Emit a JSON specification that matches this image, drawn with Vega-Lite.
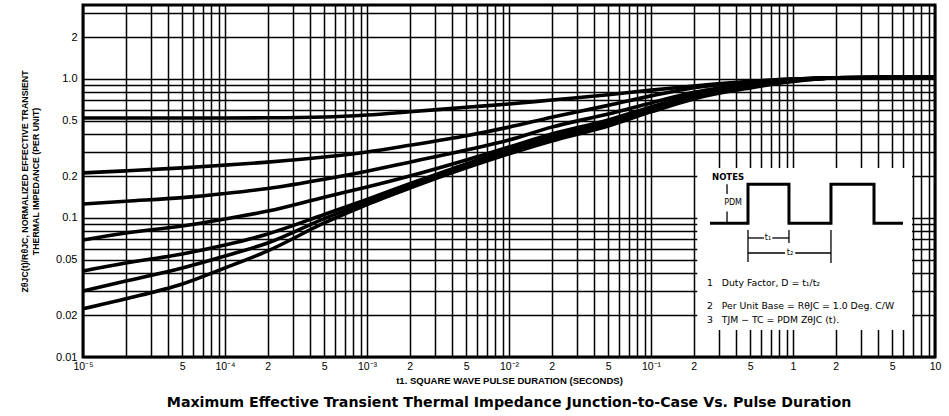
{
  "$schema": "https://vega.github.io/schema/vega-lite/v6.json",
  "width": 852,
  "height": 352,
  "autosize": {"type": "none"},
  "padding": {"left": 83, "top": 5, "right": 14, "bottom": 59},
  "background": "white",
  "title": {
    "text": "Maximum Effective Transient Thermal Impedance Junction-to-Case Vs. Pulse Duration",
    "orient": "bottom", "anchor": "middle", "font": "DejaVu Sans", "fontSize": 14.2,
    "fontWeight": "bold", "color": "black", "offset": 11
  },
  "config": {
    "view": {"stroke": "black", "strokeWidth": 3},
    "axis": {
      "grid": true, "gridColor": "black", "gridOpacity": 1, "gridWidth": 1.5,
      "ticks": false, "domain": false, "labelColor": "black", "titleColor": "black",
      "labelFont": "Liberation Sans", "titleFont": "Liberation Sans",
      "labelOverlap": false, "labelFlush": false
    }
  },
  "datasets": {
    "curves": [
      {"D":"0.5","t":0.00001,"z":0.524},{"D":"0.5","t":0.00002,"z":0.524},{"D":"0.5","t":0.00005,"z":0.524},{"D":"0.5","t":0.0001,"z":0.524},{"D":"0.5","t":0.0002,"z":0.525},{"D":"0.5","t":0.0005,"z":0.532},{"D":"0.5","t":0.001,"z":0.55},{"D":"0.5","t":0.002,"z":0.58},{"D":"0.5","t":0.005,"z":0.625},{"D":"0.5","t":0.01,"z":0.66},{"D":"0.5","t":0.02,"z":0.705},{"D":"0.5","t":0.05,"z":0.77},{"D":"0.5","t":0.1,"z":0.83},{"D":"0.5","t":0.2,"z":0.89},{"D":"0.5","t":0.5,"z":0.96},{"D":"0.5","t":1,"z":1.0},{"D":"0.5","t":2,"z":1.02},{"D":"0.5","t":5,"z":1.03},{"D":"0.5","t":10,"z":1.03},
      {"D":"0.2","t":0.00001,"z":0.211},{"D":"0.2","t":0.00002,"z":0.218},{"D":"0.2","t":0.00005,"z":0.229},{"D":"0.2","t":0.0001,"z":0.24},{"D":"0.2","t":0.0002,"z":0.252},{"D":"0.2","t":0.0005,"z":0.274},{"D":"0.2","t":0.001,"z":0.298},{"D":"0.2","t":0.002,"z":0.333},{"D":"0.2","t":0.005,"z":0.39},{"D":"0.2","t":0.01,"z":0.45},{"D":"0.2","t":0.02,"z":0.53},{"D":"0.2","t":0.05,"z":0.645},{"D":"0.2","t":0.1,"z":0.755},{"D":"0.2","t":0.2,"z":0.865},{"D":"0.2","t":0.5,"z":0.95},{"D":"0.2","t":1,"z":0.995},{"D":"0.2","t":2,"z":1.017},{"D":"0.2","t":5,"z":1.025},{"D":"0.2","t":10,"z":1.03},
      {"D":"0.1","t":0.00001,"z":0.126},{"D":"0.1","t":0.00002,"z":0.132},{"D":"0.1","t":0.00005,"z":0.14},{"D":"0.1","t":0.0001,"z":0.15},{"D":"0.1","t":0.0002,"z":0.163},{"D":"0.1","t":0.0005,"z":0.19},{"D":"0.1","t":0.001,"z":0.217},{"D":"0.1","t":0.002,"z":0.252},{"D":"0.1","t":0.005,"z":0.308},{"D":"0.1","t":0.01,"z":0.364},{"D":"0.1","t":0.02,"z":0.45},{"D":"0.1","t":0.05,"z":0.56},{"D":"0.1","t":0.1,"z":0.672},{"D":"0.1","t":0.2,"z":0.8},{"D":"0.1","t":0.5,"z":0.92},{"D":"0.1","t":1,"z":0.984},{"D":"0.1","t":2,"z":1.017},{"D":"0.1","t":5,"z":1.025},{"D":"0.1","t":10,"z":1.03},
      {"D":"0.05","t":0.00001,"z":0.0695},{"D":"0.05","t":0.00002,"z":0.078},{"D":"0.05","t":0.00005,"z":0.0876},{"D":"0.05","t":0.0001,"z":0.0984},{"D":"0.05","t":0.0002,"z":0.112},{"D":"0.05","t":0.0005,"z":0.141},{"D":"0.05","t":0.001,"z":0.167},{"D":"0.05","t":0.002,"z":0.2005},{"D":"0.05","t":0.005,"z":0.2615},{"D":"0.05","t":0.01,"z":0.324},{"D":"0.05","t":0.02,"z":0.402},{"D":"0.05","t":0.05,"z":0.507},{"D":"0.05","t":0.1,"z":0.629},{"D":"0.05","t":0.2,"z":0.767},{"D":"0.05","t":0.5,"z":0.905},{"D":"0.05","t":1,"z":0.984},{"D":"0.05","t":2,"z":1.017},{"D":"0.05","t":5,"z":1.025},{"D":"0.05","t":10,"z":1.03},
      {"D":"0.02","t":0.00001,"z":0.0416},{"D":"0.02","t":0.00002,"z":0.0474},{"D":"0.02","t":0.00005,"z":0.0551},{"D":"0.02","t":0.0001,"z":0.0639},{"D":"0.02","t":0.0002,"z":0.0767},{"D":"0.02","t":0.0005,"z":0.106},{"D":"0.02","t":0.001,"z":0.136},{"D":"0.02","t":0.002,"z":0.176},{"D":"0.02","t":0.005,"z":0.245},{"D":"0.02","t":0.01,"z":0.308},{"D":"0.02","t":0.02,"z":0.383},{"D":"0.02","t":0.05,"z":0.4905},{"D":"0.02","t":0.1,"z":0.608},{"D":"0.02","t":0.2,"z":0.742},{"D":"0.02","t":0.5,"z":0.89},{"D":"0.02","t":1,"z":0.975},{"D":"0.02","t":2,"z":1.017},{"D":"0.02","t":5,"z":1.025},{"D":"0.02","t":10,"z":1.03},
      {"D":"0.01","t":0.00001,"z":0.0298},{"D":"0.01","t":0.00002,"z":0.0352},{"D":"0.01","t":0.00005,"z":0.0437},{"D":"0.01","t":0.0001,"z":0.0533},{"D":"0.01","t":0.0002,"z":0.0661},{"D":"0.01","t":0.0005,"z":0.099},{"D":"0.01","t":0.001,"z":0.13},{"D":"0.01","t":0.002,"z":0.17},{"D":"0.01","t":0.005,"z":0.237},{"D":"0.01","t":0.01,"z":0.2985},{"D":"0.01","t":0.02,"z":0.37},{"D":"0.01","t":0.05,"z":0.4745},{"D":"0.01","t":0.1,"z":0.5885},{"D":"0.01","t":0.2,"z":0.73},{"D":"0.01","t":0.5,"z":0.876},{"D":"0.01","t":1,"z":0.967},{"D":"0.01","t":2,"z":1.017},{"D":"0.01","t":5,"z":1.025},{"D":"0.01","t":10,"z":1.03},
      {"D":"single","t":0.00001,"z":0.0222},{"D":"single","t":0.00002,"z":0.0262},{"D":"single","t":0.00005,"z":0.0335},{"D":"single","t":0.0001,"z":0.0437},{"D":"single","t":0.0002,"z":0.0579},{"D":"single","t":0.0005,"z":0.092},{"D":"single","t":0.001,"z":0.125},{"D":"single","t":0.002,"z":0.164},{"D":"single","t":0.005,"z":0.229},{"D":"single","t":0.01,"z":0.289},{"D":"single","t":0.02,"z":0.358},{"D":"single","t":0.05,"z":0.459},{"D":"single","t":0.1,"z":0.579},{"D":"single","t":0.2,"z":0.718},{"D":"single","t":0.5,"z":0.862},{"D":"single","t":1,"z":0.959},{"D":"single","t":2,"z":1.017},{"D":"single","t":5,"z":1.025},{"D":"single","t":10,"z":1.03}
    ],
    "box": [{"u":72.1,"u2":97.3,"v":7.7,"v2":53.7}],
    "wave": [
      {"i":0,"u":73.59,"v":37.98},{"i":1,"u":78.05,"v":37.98},{"i":2,"u":78.05,"v":49.06},{"i":3,"u":82.86,"v":49.06},{"i":4,"u":82.86,"v":37.98},
      {"i":5,"u":87.79,"v":37.98},{"i":6,"u":87.79,"v":49.06},{"i":7,"u":92.84,"v":49.06},{"i":8,"u":92.84,"v":37.98},{"i":9,"u":96.24,"v":37.98}
    ],
    "rules": [
      {"u":75.59,"u2":75.59,"v":49.06,"v2":46.3},{"u":75.59,"u2":75.59,"v":41.3,"v2":37.98},
      {"u":78.05,"u2":78.05,"v":36.08,"v2":26.99},{"u":82.86,"u2":82.86,"v":36.08,"v2":32.39},{"u":87.79,"u2":87.79,"v":36.08,"v2":26.7},
      {"u":78.05,"u2":79.9,"v":33.81,"v2":33.81},{"u":80.9,"u2":82.86,"v":33.81,"v2":33.81},
      {"u":78.05,"u2":82.4,"v":29.55,"v2":29.55},{"u":83.6,"u2":87.79,"v":29.55,"v2":29.55}
    ],
    "small": [
      {"u":80.4,"v":33.81,"label":"t₁"},{"u":82.98,"v":29.55,"label":"t₂"},{"u":76.3,"v":43.75,"label":"PDM"}
    ],
    "notes": [
      {"u":73.24,"v":21.02,"label":"1\u00a0\u00a0\u00a0Duty Factor, D = t₁/t₂"},
      {"u":73.24,"v":14.49,"label":"2\u00a0\u00a0\u00a0Per Unit Base = RθJC = 1.0 Deg. C/W"},
      {"u":73.24,"v":10.51,"label":"3\u00a0\u00a0\u00a0TJM − TC = PDM ZθJC (t)."}
    ],
    "heading": [{"u":73.83,"v":51.14,"label":"NOTES"}]
  },
  "layer": [
    {
      "data": {"name": "curves"},
      "mark": {"type": "line", "color": "black", "strokeWidth": 3.6, "interpolate": "monotone"},
      "encoding": {
        "x": {
          "field": "t", "type": "quantitative",
          "scale": {"type": "log", "domain": [0.00001, 10], "nice": false},
          "axis": {
            "values": [0.00001,0.00002,0.00003,0.00004,0.00005,0.00006,0.00007,0.00008,0.00009,0.0001,0.0002,0.0003,0.0004,0.0005,0.0006,0.0007,0.0008,0.0009,0.001,0.002,0.003,0.004,0.005,0.006,0.007,0.008,0.009,0.01,0.02,0.03,0.04,0.05,0.06,0.07,0.08,0.09,0.1,0.2,0.3,0.4,0.5,0.6,0.7,0.8,0.9,1,2,3,4,5,6,7,8,9,10],
            "labelExpr": "datum.value==0.00001?'10⁻⁵':datum.value==0.00005?'5':datum.value==0.0001?'10⁻⁴':datum.value==0.0002?'2':datum.value==0.0005?'5':datum.value==0.001?'10⁻³':datum.value==0.002?'2':datum.value==0.005?'5':datum.value==0.01?'10⁻²':datum.value==0.02?'2':datum.value==0.05?'5':datum.value==0.1?'10⁻¹':datum.value==0.2?'2':datum.value==0.5?'5':datum.value==1?'1':datum.value==2?'2':datum.value==5?'5':datum.value==10?'10':''",
            "title": "t1. SQUARE WAVE PULSE DURATION (SECONDS)",
            "titleFontSize": 9.5, "titleFontWeight": "bold", "titlePadding": 4,
            "labelFontSize": 10.5, "labelPadding": 4
          }
        },
        "y": {
          "field": "z", "type": "quantitative",
          "scale": {"type": "log", "domain": [0.01, 3.4], "nice": false},
          "axis": {
            "values": [0.01,0.02,0.03,0.04,0.05,0.06,0.07,0.08,0.09,0.1,0.2,0.3,0.4,0.5,0.6,0.7,0.8,0.9,1,2,3],
            "labelExpr": "datum.value==0.01?'0.01':datum.value==0.02?'0.02':datum.value==0.05?'0.05':datum.value==0.1?'0.1':datum.value==0.2?'0.2':datum.value==0.5?'0.5':datum.value==1?'1.0':datum.value==2?'2':''",
            "title": ["ZθJC(t)/RθJC, NORMALIZED EFFECTIVE TRANSIENT", "THERMAL IMPEDANCE (PER UNIT)"],
            "titleFontSize": 8.8, "titleFontWeight": "bold", "titlePadding": 15, "titleLineHeight": 11,
            "labelFontSize": 11, "labelPadding": 6
          }
        },
        "detail": {"field": "D", "type": "nominal"}
      }
    },
    {
      "data": {"name": "box"},
      "mark": {"type": "rect", "fill": "white"},
      "encoding": {
        "x": {"field": "u", "type": "quantitative", "scale": {"domain": [0, 100], "nice": false, "zero": false}, "axis": null},
        "x2": {"field": "u2"},
        "y": {"field": "v", "type": "quantitative", "scale": {"domain": [0, 100], "nice": false, "zero": false}, "axis": null},
        "y2": {"field": "v2"}
      }
    },
    {
      "data": {"name": "wave"},
      "mark": {"type": "line", "color": "black", "strokeWidth": 3},
      "encoding": {
        "x": {"field": "u", "type": "quantitative", "scale": {"domain": [0, 100], "nice": false, "zero": false}, "axis": null},
        "y": {"field": "v", "type": "quantitative", "scale": {"domain": [0, 100], "nice": false, "zero": false}, "axis": null},
        "order": {"field": "i", "type": "quantitative"}
      }
    },
    {
      "data": {"name": "rules"},
      "mark": {"type": "rule", "color": "black", "strokeWidth": 1.3},
      "encoding": {
        "x": {"field": "u", "type": "quantitative", "scale": {"domain": [0, 100], "nice": false, "zero": false}, "axis": null},
        "x2": {"field": "u2"},
        "y": {"field": "v", "type": "quantitative", "scale": {"domain": [0, 100], "nice": false, "zero": false}, "axis": null},
        "y2": {"field": "v2"}
      }
    },
    {
      "data": {"name": "small"},
      "mark": {"type": "text", "color": "black", "font": "DejaVu Sans", "fontSize": 8, "align": "center", "baseline": "middle"},
      "encoding": {
        "x": {"field": "u", "type": "quantitative", "scale": {"domain": [0, 100], "nice": false, "zero": false}, "axis": null},
        "y": {"field": "v", "type": "quantitative", "scale": {"domain": [0, 100], "nice": false, "zero": false}, "axis": null},
        "text": {"field": "label"}
      }
    },
    {
      "data": {"name": "notes"},
      "mark": {"type": "text", "color": "black", "font": "DejaVu Sans", "fontSize": 9.3, "align": "left", "baseline": "middle"},
      "encoding": {
        "x": {"field": "u", "type": "quantitative", "scale": {"domain": [0, 100], "nice": false, "zero": false}, "axis": null},
        "y": {"field": "v", "type": "quantitative", "scale": {"domain": [0, 100], "nice": false, "zero": false}, "axis": null},
        "text": {"field": "label"}
      }
    },
    {
      "data": {"name": "heading"},
      "mark": {"type": "text", "color": "black", "font": "DejaVu Sans", "fontSize": 8.5, "fontWeight": "bold", "align": "left", "baseline": "middle"},
      "encoding": {
        "x": {"field": "u", "type": "quantitative", "scale": {"domain": [0, 100], "nice": false, "zero": false}, "axis": null},
        "y": {"field": "v", "type": "quantitative", "scale": {"domain": [0, 100], "nice": false, "zero": false}, "axis": null},
        "text": {"field": "label"}
      }
    }
  ],
  "resolve": {"scale": {"x": "independent", "y": "independent"}}
}
